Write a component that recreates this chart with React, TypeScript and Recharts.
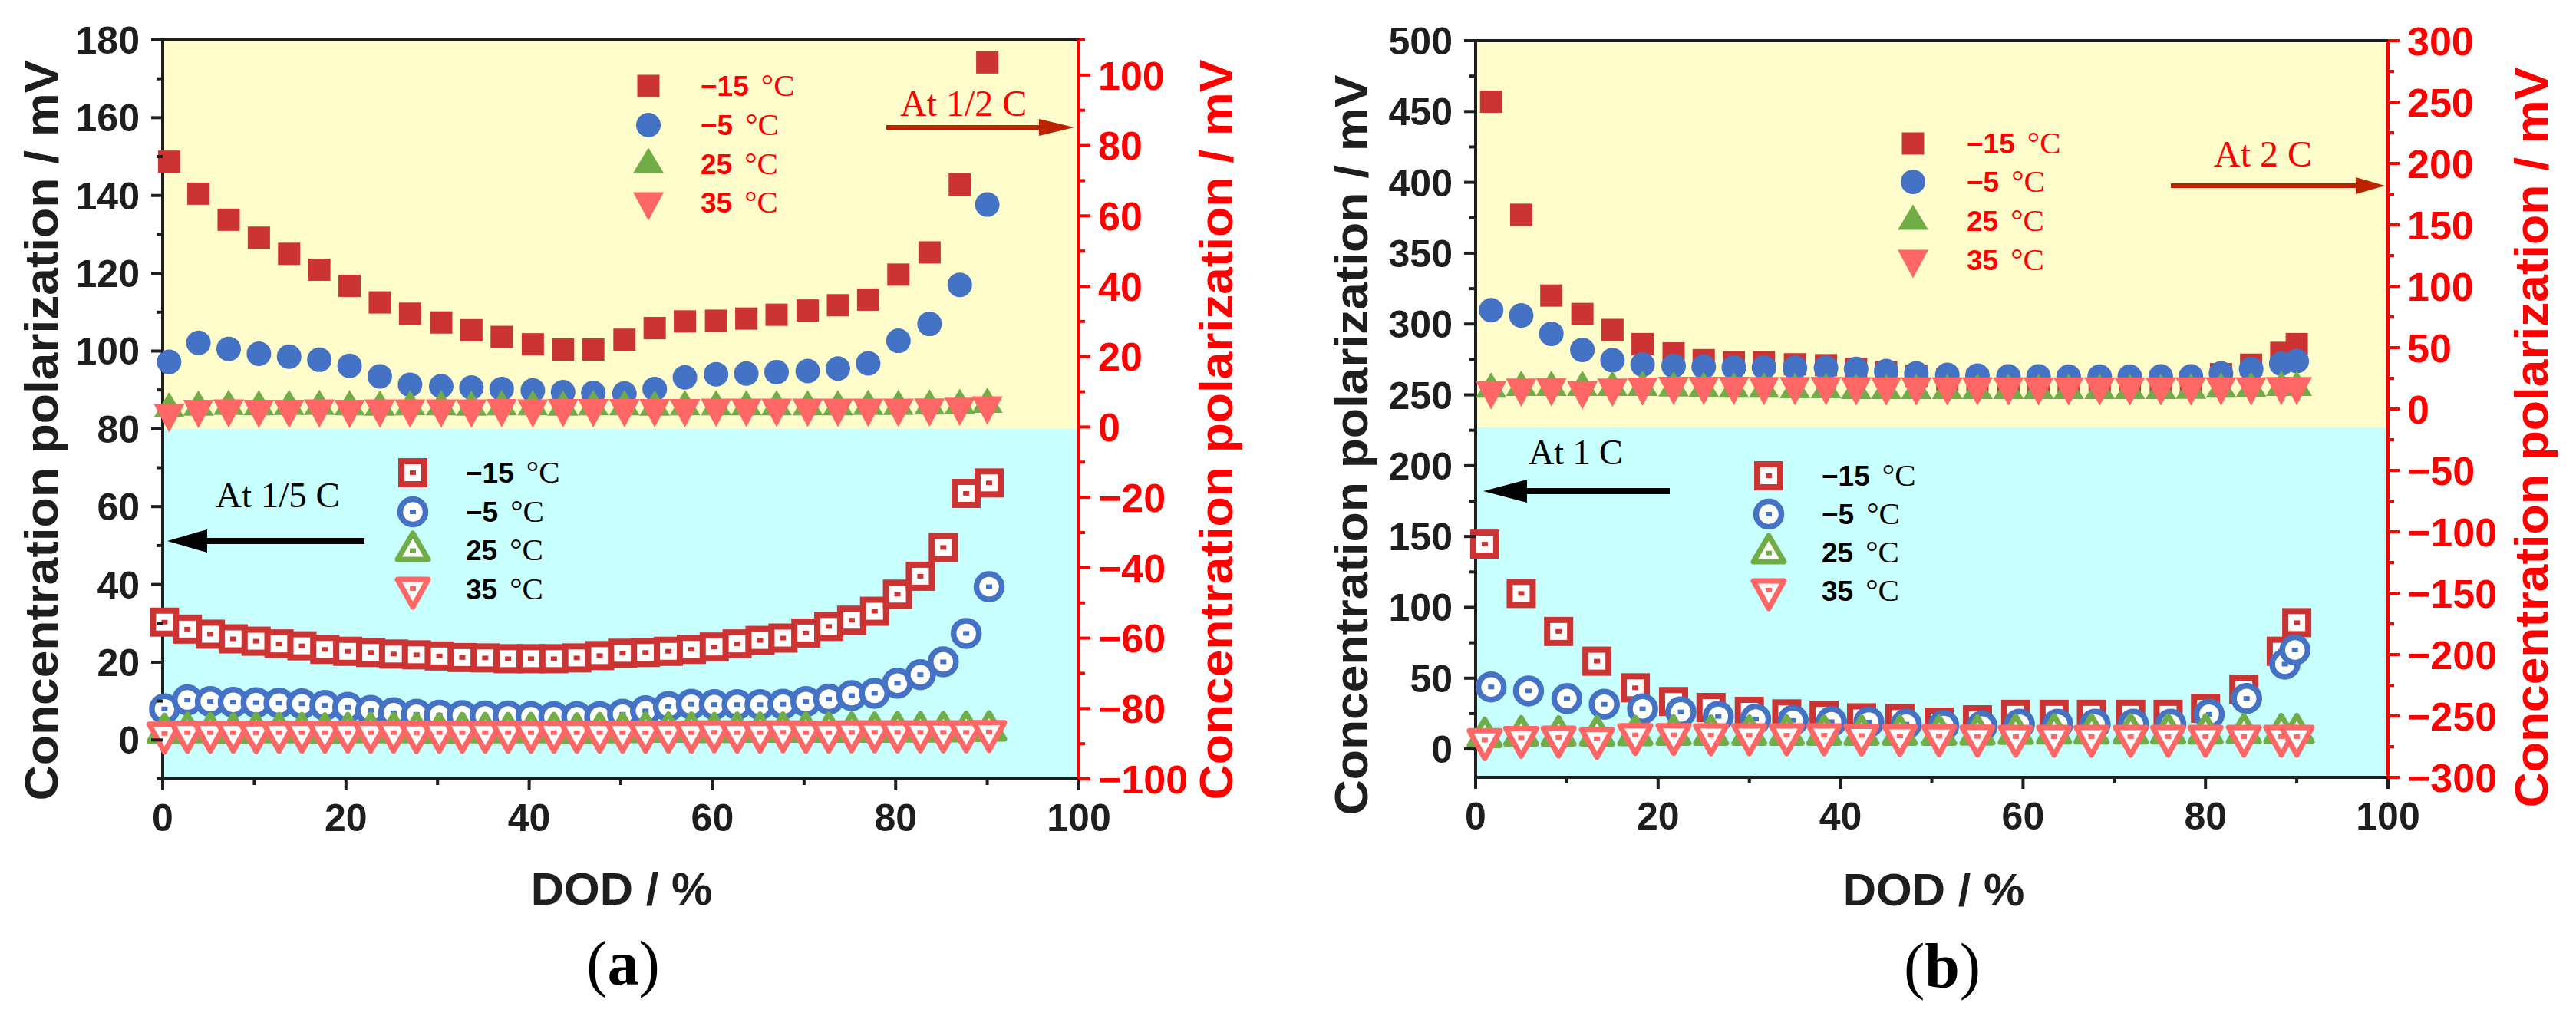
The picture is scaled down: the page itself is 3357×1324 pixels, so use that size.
import React from 'react';
import { ScatterChart, Scatter, XAxis, YAxis, ReferenceArea, ReferenceLine } from 'recharts';

// ---------- panel (a): upper group, 1/2 C, right axis ----------
const A_HI_X = [0.7, 3.9, 7.2, 10.5, 13.8, 17.1, 20.4, 23.7, 27.0, 30.4, 33.7, 37.0, 40.4, 43.7, 47.0, 50.4, 53.7, 57.0, 60.4, 63.7, 67.0, 70.4, 73.7, 77.0, 80.3, 83.7, 87.0, 90.0];
const A_HI_M15 = [75.4, 66.3, 58.9, 53.8, 49.2, 44.7, 40.1, 35.4, 32.2, 29.7, 27.5, 25.6, 23.5, 22.0, 22.0, 24.8, 28.1, 30.0, 30.2, 30.8, 31.9, 33.1, 34.6, 36.2, 43.3, 49.6, 68.9, 103.6];
const A_HI_M5 = [18.5, 23.9, 22.2, 20.8, 20.0, 19.1, 17.4, 14.4, 12.0, 11.6, 11.2, 10.8, 10.4, 9.9, 9.7, 9.5, 10.8, 14.1, 15.0, 15.2, 15.6, 15.9, 16.6, 18.1, 24.5, 29.3, 40.4, 63.2];
const A_HI_25 = [6.3, 6.8, 7.0, 6.9, 7.0, 7.0, 6.9, 6.8, 6.9, 6.9, 6.8, 6.9, 6.9, 6.8, 6.9, 6.9, 6.8, 6.9, 6.9, 6.9, 6.9, 6.9, 6.9, 7.0, 7.0, 7.1, 7.3, 7.6];
const A_HI_35 = [2.5, 3.7, 3.8, 3.7, 3.7, 3.8, 3.7, 3.8, 3.8, 3.8, 3.8, 3.9, 3.8, 3.9, 3.9, 3.9, 3.9, 3.9, 4.0, 4.0, 4.0, 4.0, 4.0, 4.0, 4.0, 4.1, 4.3, 4.7];

// ---------- panel (a): lower group, 1/5 C, left axis ----------
const A_LO_X = [0.2, 2.7, 5.2, 7.7, 10.2, 12.7, 15.2, 17.7, 20.2, 22.7, 25.2, 27.7, 30.2, 32.7, 35.2, 37.7, 40.2, 42.7, 45.2, 47.7, 50.2, 52.7, 55.2, 57.7, 60.2, 62.7, 65.2, 67.7, 70.2, 72.7, 75.2, 77.7, 80.2, 82.7, 85.2, 87.7, 90.2];
const A_LO_M15 = [30.3, 28.5, 27.2, 26.0, 25.4, 24.7, 24.2, 23.3, 22.8, 22.5, 22.1, 21.9, 21.6, 21.2, 21.1, 20.9, 20.9, 20.9, 21.1, 21.7, 22.3, 22.5, 22.8, 23.3, 23.9, 24.7, 25.6, 26.2, 27.5, 29.2, 30.8, 33.1, 37.5, 42.1, 49.5, 63.4, 66.1];
const A_LO_M5 = [8.0, 10.3, 9.9, 9.7, 9.6, 9.5, 9.3, 8.9, 8.4, 7.6, 7.0, 6.6, 6.4, 6.3, 6.2, 6.2, 6.0, 6.0, 6.0, 6.0, 6.6, 7.5, 8.6, 9.2, 9.1, 9.1, 9.1, 9.2, 9.9, 10.5, 11.4, 12.0, 14.6, 16.8, 20.1, 27.4, 39.4];
const A_LO_25 = [3.0, 3.2, 3.2, 3.1, 3.2, 3.2, 3.2, 3.1, 3.2, 3.2, 3.2, 3.2, 3.1, 3.2, 3.2, 3.2, 3.2, 3.2, 3.1, 3.2, 3.2, 3.3, 3.3, 3.3, 3.2, 3.3, 3.3, 3.3, 3.3, 3.3, 3.3, 3.3, 3.4, 3.4, 3.4, 3.5, 3.6];
const A_LO_35 = [0.5, 0.7, 0.7, 0.7, 0.6, 0.7, 0.7, 0.7, 0.7, 0.7, 0.7, 0.6, 0.7, 0.7, 0.7, 0.7, 0.7, 0.7, 0.7, 0.7, 0.7, 0.7, 0.7, 0.7, 0.8, 0.7, 0.7, 0.8, 0.7, 0.7, 0.8, 0.8, 0.8, 0.8, 0.8, 0.8, 0.9];

// ---------- panel (b): upper group, 2 C, right axis ----------
const B_HI_X = [1.7, 5.0, 8.3, 11.7, 15.0, 18.3, 21.7, 25.0, 28.3, 31.6, 35.0, 38.4, 41.7, 45.0, 48.3, 51.7, 55.0, 58.4, 61.7, 65.0, 68.4, 71.7, 75.1, 78.4, 81.7, 85.0, 88.3, 90.0];
const B_HI_M15 = [250.3, 158.2, 92.4, 77.4, 64.4, 52.9, 45.3, 39.8, 38.1, 38.1, 36.4, 35.7, 32.6, 30.1, 27.0, 24.0, 23.5, 22.3, 22.0, 21.8, 22.0, 21.8, 22.0, 22.3, 28.4, 36.1, 45.7, 52.9];
const B_HI_M5 = [80.5, 76.2, 61.3, 48.2, 39.8, 36.2, 35.0, 34.3, 33.8, 33.8, 33.6, 33.6, 32.6, 30.9, 29.1, 27.8, 27.2, 26.6, 26.6, 26.4, 26.4, 26.4, 26.6, 26.6, 29.1, 32.6, 36.9, 39.1];
const B_HI_25 = [19.5, 21.0, 21.0, 21.0, 21.0, 21.0, 20.5, 20.0, 19.5, 19.5, 19.0, 19.0, 18.5, 18.4, 18.4, 18.4, 18.4, 18.4, 18.4, 18.4, 18.4, 18.4, 18.4, 18.6, 19.5, 20.0, 21.0, 21.0];
const B_HI_35 = [11.1, 13.3, 13.6, 11.1, 13.3, 14.0, 14.7, 14.7, 14.7, 14.5, 14.5, 14.5, 14.3, 14.2, 14.2, 14.2, 14.2, 14.2, 14.2, 14.2, 14.2, 14.2, 14.2, 14.2, 14.2, 14.2, 14.5, 14.5];

// ---------- panel (b): lower group, 1 C, left axis ----------
const B_LO_X = [1.0, 5.0, 9.1, 13.3, 17.5, 21.7, 25.8, 30.0, 34.1, 38.2, 42.3, 46.5, 50.8, 55.0, 59.2, 63.4, 67.5, 71.8, 75.9, 80.0, 84.2, 88.3, 90.0];
const B_LO_CX = [1.7, 5.8, 10.0, 14.1, 18.3, 22.5, 26.6, 30.7, 34.8, 39.0, 43.1, 47.2, 51.3, 55.5, 59.6, 63.8, 67.9, 72.1, 76.2, 80.4, 84.5, 88.7, 89.8];
const B_LO_M15 = [144.6, 109.8, 83.0, 62.0, 43.2, 33.5, 29.3, 26.6, 24.8, 23.8, 22.0, 21.5, 19.0, 20.6, 24.5, 24.5, 24.5, 24.5, 24.5, 28.7, 42.3, 69.0, 89.2];
const B_LO_M5 = [43.8, 41.0, 35.6, 31.6, 28.4, 26.2, 23.0, 21.1, 20.2, 19.3, 19.0, 17.5, 16.6, 16.1, 17.5, 17.5, 17.5, 17.5, 17.5, 24.5, 35.7, 59.9, 69.9];
const B_LO_25 = [11.7, 12.8, 12.8, 12.8, 13.1, 13.3, 13.3, 13.3, 13.3, 13.3, 13.3, 13.3, 13.3, 13.5, 14.0, 14.2, 14.2, 14.2, 14.2, 14.2, 14.4, 14.4, 14.4];
const B_LO_35 = [3.1, 4.7, 4.9, 4.0, 6.7, 6.7, 6.5, 6.5, 6.5, 6.5, 6.3, 6.0, 5.8, 5.6, 5.5, 5.5, 5.5, 5.5, 5.5, 5.5, 5.5, 5.5, 5.5];

// ---------- axes ----------
const X_TICKS = [0, 10, 20, 30, 40, 50, 60, 70, 80, 90, 100];
const A_L_TICKS = [-10, 0, 10, 20, 30, 40, 50, 60, 70, 80, 90, 100, 110, 120, 130, 140, 150, 160, 170, 180];
const A_R_TICKS = [-100, -90, -80, -70, -60, -50, -40, -30, -20, -10, 0, 10, 20, 30, 40, 50, 60, 70, 80, 90, 100, 110];
const B_L_TICKS = [0, 25, 50, 75, 100, 125, 150, 175, 200, 225, 250, 275, 300, 325, 350, 375, 400, 425, 450, 475, 500];
const B_R_TICKS = [-300, -275, -250, -225, -200, -175, -150, -125, -100, -75, -50, -25, 0, 25, 50, 75, 100, 125, 150, 175, 200, 225, 250, 275, 300];

const TEMPS = ['\u221215', '\u22125', '25', '35'];
const Y_TITLE = 'Concentration polarization / mV';

const RED = '#CC3333';
const BLUE = '#4472C4';
const GREEN = '#70AD47';
const SALMON = '#FF6666';
const TXT_RED = '#FF0000';
const ARROW_RED = '#BB2200';
const INK = '#1E1E1E';
const YELLOW = '#FFFDCC';
const CYAN = '#C8FFFF';
const SANS = '"Liberation Sans", Arial, sans-serif';
const NARROW = '"Liberation Sans Narrow", "Arial Narrow", "Liberation Sans", Arial, sans-serif';
const SERIF = '"Liberation Serif", "Times New Roman", serif';

type Kind = 'square' | 'circle' | 'up' | 'down';
const KINDS: Kind[] = ['square', 'circle', 'up', 'down'];
const COLORS = [RED, BLUE, GREEN, SALMON];

function Mark({ cx, cy, kind, color, open }: { cx?: number; cy?: number; kind: Kind; color: string; open?: boolean }) {
  if (cx == null || cy == null || Number.isNaN(cx) || Number.isNaN(cy)) return null;
  const fill = open ? '#ffffff' : color;
  const stroke = open ? color : 'none';
  let body: React.ReactNode;
  let dotY = cy;
  if (kind === 'square') {
    const s = open ? 30 : 29;
    body = <rect x={cx - s / 2} y={cy - s / 2} width={s} height={s} fill={fill} stroke={stroke} strokeWidth={open ? 8 : 0} />;
  } else if (kind === 'circle') {
    const r = open ? 16.5 : 16;
    body = <circle cx={cx} cy={cy} r={r} fill={fill} stroke={stroke} strokeWidth={open ? 7.5 : 0} />;
  } else if (kind === 'up') {
    const w = open ? 40 : 40;
    const h = open ? 34 : 33;
    dotY = cy + h / 6;
    body = (
      <path d={`M${cx},${cy - h / 2}L${cx + w / 2},${cy + h / 2}L${cx - w / 2},${cy + h / 2}Z`}
        fill={fill} stroke={stroke} strokeWidth={open ? 7 : 0} strokeLinejoin="round" />
    );
  } else {
    const w = open ? 40 : 40;
    const h = open ? 36 : 37;
    dotY = cy - h / 6;
    body = (
      <path d={`M${cx - w / 2},${cy - h / 2}L${cx + w / 2},${cy - h / 2}L${cx},${cy + h / 2}Z`}
        fill={fill} stroke={stroke} strokeWidth={open ? 7 : 0} strokeLinejoin="round" />
    );
  }
  return (
    <g>
      {body}
      {open && <rect x={cx - 4} y={dotY - 3} width={8} height={6} fill={color} />}
    </g>
  );
}

const fmt = (v: number) => (v < 0 ? '\u2212' + Math.abs(v) : String(v));

function makeTick(side: 'left' | 'right' | 'bottom', major: number, color: string, size: number, gap: number) {
  return (props: any) => {
    const { x, y, payload } = props;
    const v = payload.value as number;
    const isMajor = Math.abs(v % major) < 1e-6;
    const len = isMajor ? 15 : 8;
    const text = { fill: color, fontSize: size, fontWeight: 700, fontFamily: SANS };
    if (side === 'left') {
      return (
        <g>
          <line x1={x} x2={x - len} y1={y} y2={y} stroke={color} strokeWidth={4} />
          {isMajor && <text x={x - gap} y={y} dy="0.36em" textAnchor="end" {...text}>{fmt(v)}</text>}
        </g>
      );
    }
    if (side === 'right') {
      return (
        <g>
          <line x1={x} x2={x + len} y1={y} y2={y} stroke={color} strokeWidth={4} />
          {isMajor && <text x={x + gap} y={y} dy="0.36em" textAnchor="start" {...text}>{fmt(v)}</text>}
        </g>
      );
    }
    return (
      <g>
        <line x1={x} x2={x} y1={y} y2={y + len} stroke={color} strokeWidth={4} />
        {isMajor && <text x={x} y={y + 68} textAnchor="middle" {...text}>{fmt(v)}</text>}
      </g>
    );
  };
}

const pts = (xs: number[], ys: number[]) => xs.map((x, i) => ({ x, y: ys[i] }));

type Series = { xs: number[]; ys: number[]; idx: number; open: boolean; axis: 'l' | 'r' };

type PanelProps = {
  left: number;
  width: number;
  top: number;
  height: number;
  yLeftW: number;
  yRightW: number;
  xH: number;
  lDomain: [number, number];
  lTicks: number[];
  lMajor: number;
  rDomain: [number, number];
  rTicks: number[];
  rMajor: number;
  rColor: string;
  rFont: number;
  split: number;
  series: Series[];
};

function Panel(p: PanelProps) {
  return (
    <div style={{ position: 'absolute', left: p.left, top: 0 }}>
      <ScatterChart width={p.width} height={p.height} margin={{ top: p.top, right: 0, bottom: 0, left: 0 }}>
        <XAxis type="number" dataKey="x" domain={[0, 100]} ticks={X_TICKS} interval={0} height={p.xH}
          tickSize={0} tickMargin={0} tickLine={false} axisLine={{ stroke: INK, strokeWidth: 4 }}
          tick={makeTick('bottom', 20, INK, 50, 0)} />
        <YAxis yAxisId="l" type="number" dataKey="y" domain={p.lDomain} ticks={p.lTicks} interval={0} width={p.yLeftW}
          tickSize={0} tickMargin={0} tickLine={false} axisLine={{ stroke: INK, strokeWidth: 4 }}
          tick={makeTick('left', p.lMajor, INK, 50, 30)} />
        <YAxis yAxisId="r" orientation="right" type="number" dataKey="y" domain={p.rDomain} ticks={p.rTicks} interval={0}
          width={p.yRightW} tickSize={0} tickMargin={0} tickLine={false}
          axisLine={{ stroke: p.rColor, strokeWidth: 4 }} tick={makeTick('right', p.rMajor, p.rColor, p.rFont, 25)} />
        <ReferenceArea yAxisId="l" y1={p.split} y2={p.lDomain[1]} fill={YELLOW} fillOpacity={1} stroke="none" />
        <ReferenceArea yAxisId="l" y1={p.lDomain[0]} y2={p.split} fill={CYAN} fillOpacity={1} stroke="none" />
        <ReferenceLine yAxisId="l" y={p.lDomain[1]} stroke={INK} strokeWidth={4} />
        {p.series.map((s, i) => (
          <Scatter key={i} yAxisId={s.axis} data={pts(s.xs, s.ys)} isAnimationActive={false}
            shape={(q: any) => <Mark cx={q.cx} cy={q.cy} kind={KINDS[s.idx]} color={COLORS[s.idx]} open={s.open} />} />
        ))}
      </ScatterChart>
    </div>
  );
}

function Legend({ x, tx, rows, color, open }: { x: number; tx: number; rows: number[]; color: string; open: boolean }) {
  return (
    <g>
      {TEMPS.map((t, i) => {
        const off = KINDS[i] === 'up' ? -5 : KINDS[i] === 'down' ? 5 : 0;
        return (
          <g key={t}>
            <Mark cx={x} cy={rows[i] + off} kind={KINDS[i]} color={COLORS[i]} open={open} />
            <text x={tx} y={rows[i] + 13} fill={color} fontSize={37} fontWeight={700} fontFamily={NARROW}>
              {t}
              <tspan dx={16} fontFamily={SERIF} fontWeight={400} fontSize={41}>°C</tspan>
            </text>
          </g>
        );
      })}
    </g>
  );
}

function Arrow({ x1, x2, y, head, half, w, color }: { x1: number; x2: number; y: number; head: number; half: number; w: number; color: string }) {
  // x2 is the tip
  const dir = x2 > x1 ? 1 : -1;
  const base = x2 - dir * head;
  return (
    <g>
      <line x1={x1} x2={base} y1={y} y2={y} stroke={color} strokeWidth={w} />
      <polygon points={`${x2},${y} ${base},${y - half} ${base},${y + half}`} fill={color} />
    </g>
  );
}

function YTitle({ x, y, color }: { x: number; y: number; color: string }) {
  return (
    <text transform={`translate(${x},${y}) rotate(-90)`} textAnchor="middle" fill={color} fontSize={62}
      fontWeight={700} fontFamily={SANS} textLength={965} lengthAdjust="spacingAndGlyphs">
      {Y_TITLE}
    </text>
  );
}

export default function App() {
  const aSeries: Series[] = [
    { xs: A_HI_X, ys: A_HI_M15, idx: 0, open: false, axis: 'r' },
    { xs: A_HI_X, ys: A_HI_M5, idx: 1, open: false, axis: 'r' },
    { xs: A_HI_X, ys: A_HI_25, idx: 2, open: false, axis: 'r' },
    { xs: A_HI_X, ys: A_HI_35, idx: 3, open: false, axis: 'r' },
    { xs: A_LO_X, ys: A_LO_M15, idx: 0, open: true, axis: 'l' },
    { xs: A_LO_X, ys: A_LO_M5, idx: 1, open: true, axis: 'l' },
    { xs: A_LO_X, ys: A_LO_25, idx: 2, open: true, axis: 'l' },
    { xs: A_LO_X, ys: A_LO_35, idx: 3, open: true, axis: 'l' },
  ];
  const bSeries: Series[] = [
    { xs: B_HI_X, ys: B_HI_M15, idx: 0, open: false, axis: 'r' },
    { xs: B_HI_X, ys: B_HI_M5, idx: 1, open: false, axis: 'r' },
    { xs: B_HI_X, ys: B_HI_25, idx: 2, open: false, axis: 'r' },
    { xs: B_HI_X, ys: B_HI_35, idx: 3, open: false, axis: 'r' },
    { xs: B_LO_X, ys: B_LO_M15, idx: 0, open: true, axis: 'l' },
    { xs: B_LO_CX, ys: B_LO_M5, idx: 1, open: true, axis: 'l' },
    { xs: B_LO_X, ys: B_LO_25, idx: 2, open: true, axis: 'l' },
    { xs: B_LO_X, ys: B_LO_35, idx: 3, open: true, axis: 'l' },
  ];

  return (
    <div style={{ position: 'absolute', left: 0, top: 0, width: 3357, height: 1324, background: '#fff', overflow: 'hidden' }}>
      <Panel left={0} width={1700} top={52} height={1100} yLeftW={212} yRightW={294} xH={85}
        lDomain={[-10, 180]} lTicks={A_L_TICKS} lMajor={20}
        rDomain={[-100, 110]} rTicks={A_R_TICKS} rMajor={20} rColor={TXT_RED} rFont={52}
        split={80} series={aSeries} />
      <Panel left={1700} width={1657} top={53} height={1100} yLeftW={223} yRightW={245} xH={87}
        lDomain={[-20, 500]} lTicks={B_L_TICKS} lMajor={50}
        rDomain={[-300, 300]} rTicks={B_R_TICKS} rMajor={50} rColor={TXT_RED} rFont={52}
        split={227} series={bSeries} />

      <svg width={3357} height={1324} style={{ position: 'absolute', left: 0, top: 0, pointerEvents: 'none' }}>
        {/* axis titles */}
        <YTitle x={75} y={561} color={INK} />
        <YTitle x={1606} y={560} color={TXT_RED} />
        <YTitle x={1782} y={580} color={INK} />
        <YTitle x={3320} y={570} color={TXT_RED} />
        <text x={810} y={1179} textAnchor="middle" fontSize={60} fontWeight={700} fontFamily={SANS} fill={INK}>DOD / %</text>
        <text x={2520} y={1180} textAnchor="middle" fontSize={60} fontWeight={700} fontFamily={SANS} fill={INK}>DOD / %</text>
        <text x={812} y={1283} textAnchor="middle" fontSize={82} fontFamily={SERIF} fill="#000">
          (<tspan fontWeight={700}>a</tspan>)
        </text>
        <text x={2531} y={1286} textAnchor="middle" fontSize={82} fontFamily={SERIF} fill="#000">
          (<tspan fontWeight={700}>b</tspan>)
        </text>

        {/* panel (a) annotations */}
        <Legend x={845} tx={913} rows={[112, 163, 214, 264]} color={TXT_RED} open={false} />
        <Legend x={538} tx={607} rows={[616, 667, 717, 768]} color="#000" open={true} />
        <text x={1173} y={151} fontSize={48} fontFamily={SERIF} fill={TXT_RED}>At 1/2 C</text>
        <Arrow x1={1155} x2={1400} y={166} head={46} half={11} w={6} color={ARROW_RED} />
        <text x={281} y={661} fontSize={47} fontFamily={SERIF} fill="#000">At 1/5 C</text>
        <Arrow x1={475} x2={218} y={705} head={52} half={15} w={8} color="#000" />

        {/* panel (b) annotations */}
        <Legend x={2493} tx={2563} rows={[187, 237, 288, 339]} color={TXT_RED} open={false} />
        <Legend x={2305} tx={2374} rows={[620, 670, 720, 770]} color="#000" open={true} />
        <text x={2885} y={217} fontSize={48} fontFamily={SERIF} fill={TXT_RED}>At 2 C</text>
        <Arrow x1={2829} x2={3108} y={242} head={38} half={11} w={6} color={ARROW_RED} />
        <text x={1992} y={605} fontSize={46} fontFamily={SERIF} fill="#000">At 1 C</text>
        <Arrow x1={2176} x2={1933} y={640} head={57} half={15} w={8} color="#000" />
      </svg>
    </div>
  );
}
